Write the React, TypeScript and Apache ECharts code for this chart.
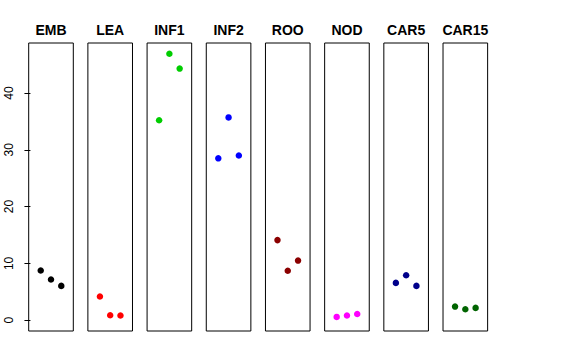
import React, { useEffect, useRef } from "react";
import * as echarts from "echarts";

const groups = ["EMB", "LEA", "INF1", "INF2", "ROO", "NOD", "CAR5", "CAR15"];
const colors = ["#000000", "#FF0000", "#00CD00", "#0000FF", "#8B0000", "#FF00FF", "#00008B", "#006400"];
const replicate = [1, 2, 3];
const embValues = [8.75, 7.17, 6.04];
const leaValues = [4.17, 0.88, 0.82];
const inf1Values = [35.2, 46.9, 44.3];
const inf2Values = [28.5, 35.7, 29.0];
const rooValues = [14.1, 8.7, 10.5];
const nodValues = [0.58, 0.82, 1.1];
const car5Values = [6.57, 7.92, 6.04];
const car15Values = [2.4, 1.93, 2.17];
const allValues = [embValues, leaValues, inf1Values, inf2Values, rooValues, nodValues, car5Values, car15Values];
const yTicks = [0, 10, 20, 30, 40];

export default function App() {
  const ref = useRef<HTMLDivElement>(null);
  useEffect(() => {
    if (!ref.current) return;
    const chart = echarts.init(ref.current, null, { renderer: "svg" });
    const left0 = 28.7;
    const step = 59.19;
    const w = 44.6;
    const top = 43;
    const h = 288;
    const grids: any[] = [];
    const xAxes: any[] = [];
    const yAxes: any[] = [];
    const series: any[] = [];
    const graphics: any[] = [];
    groups.forEach((g, i) => {
      const left = left0 + i * step;
      grids.push({ left, top, width: w, height: h, show: true, borderColor: "#000", borderWidth: 1, backgroundColor: "transparent" });
      xAxes.push({ gridIndex: i, type: "value", min: -0.17, max: 4.17, show: false });
      yAxes.push({
        gridIndex: i,
        type: "value",
        min: -1.9,
        max: 48.8,
        show: i === 0,
        axisLine: { show: false },
        splitLine: { show: false },
        axisTick: { show: true, length: 6, customValues: yTicks, lineStyle: { color: "#000" } },
        axisLabel: {
          show: true,
          customValues: yTicks,
          rotate: 90,
          margin: 14,
          fontSize: 12,
          color: "#000",
          fontFamily: "Liberation Sans, Arial, sans-serif",
        },
      });
      series.push({
        type: "scatter",
        xAxisIndex: i,
        yAxisIndex: i,
        symbol: "circle",
        symbolSize: 6.5,
        itemStyle: { color: colors[i], opacity: 1 },
        data: replicate.map((r, k) => [r, allValues[i][k]]),
      });
      graphics.push({
        type: "text",
        x: left + w / 2,
        y: 29.5,
        style: {
          text: g,
          textAlign: "center",
          textVerticalAlign: "middle",
          font: "bold 14px 'Liberation Sans', Arial, sans-serif",
          fill: "#000",
        },
      });
    });
    chart.setOption({
      animation: false,
      backgroundColor: "#fff",
      grid: grids,
      xAxis: xAxes,
      yAxis: yAxes,
      series,
      graphic: graphics,
    });
    return () => chart.dispose();
  }, []);
  return <div ref={ref} style={{ position: "fixed", left: 0, top: 0, width: 576, height: 360 }} />;
}
